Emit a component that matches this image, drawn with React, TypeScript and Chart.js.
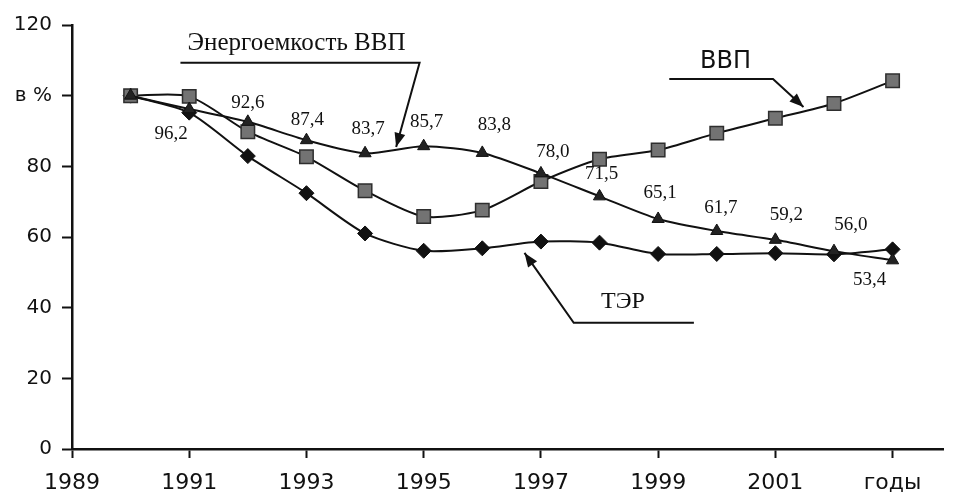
import React, { useEffect, useRef } from "react";
import { Chart, registerables } from "chart.js";

Chart.register(...registerables);

// ---- data ----
const years = [1990, 1991, 1992, 1993, 1994, 1995, 1996, 1997, 1998, 1999, 2000, 2001, 2002, 2003];
const energyIntensity = [100, 96.2, 92.6, 87.4, 83.7, 85.7, 83.8, 78.0, 71.5, 65.1, 61.7, 59.2, 56.0, 53.4];
const gdp = [100, 99.8, 89.8, 82.7, 73.1, 65.8, 67.6, 75.7, 82.0, 84.6, 89.4, 93.6, 97.8, 104.2];
const fuelResources = [100, 95.2, 82.9, 72.4, 61.0, 56.1, 56.8, 58.7, 58.4, 55.2, 55.2, 55.4, 55.1, 56.5];

const xTickValues = [1989, 1991, 1993, 1995, 1997, 1999, 2001, 2003];
const xTickLabels = ["1989", "1991", "1993", "1995", "1997", "1999", "2001", "годы"];
const yTickValues = [0, 20, 40, 60, 80, 100, 120];
const yTickLabels = ["0", "20", "40", "60", "80", "в %", "120"];

// labels shown next to the energy-intensity points (first point unlabelled)
const energyLabelShown = [false, true, true, true, true, true, true, true, true, true, true, true, true, true];

// ---- styles ----
const labelOffsets: [number, number][] = [
  [0, 0], [-18, 25], [0, -19], [1, -20], [3, -24], [3, -24], [12, -28],
  [12, -21], [2, -22], [2, -26], [4, -23], [11, -25], [17, -26], [-23, 20],
];

type Callout = {
  text: string;
  font: string;
  textAt: [number, number];
  path: [number, number][];
};

const callouts: Callout[] = [
  {
    text: "Энергоемкость ВВП",
    font: '25px "Liberation Serif", "Times New Roman", serif',
    textAt: [1992.83, 114.9],
    path: [[1990.85, 109.3], [1994.93, 109.3], [1994.53, 85.5]],
  },
  {
    text: "ВВП",
    font: '24px "DejaVu Sans", Arial, sans-serif',
    textAt: [2000.15, 109.5],
    path: [[1999.19, 104.7], [2000.96, 104.7], [2001.48, 96.8]],
  },
  {
    text: "ТЭР",
    font: '24px "Liberation Serif", "Times New Roman", serif',
    textAt: [1998.4, 41.6],
    path: [[1999.61, 35.7], [1997.56, 35.7], [1996.72, 55.5]],
  },
];

const fmt = (v: number) => v.toFixed(1).replace(".", ",");

const annotationPlugin = {
  id: "annotationPlugin",
  afterDatasetsDraw(chart: any) {
    const ctx = chart.ctx as CanvasRenderingContext2D;
    const xs = chart.scales.x;
    const ys = chart.scales.y;
    ctx.save();
    ctx.fillStyle = "#111";
    ctx.font = '19px "Liberation Serif", "Times New Roman", serif';
    ctx.textAlign = "center";
    ctx.textBaseline = "middle";
    years.forEach((yr, i) => {
      if (!energyLabelShown[i]) return;
      const px = xs.getPixelForValue(yr) + labelOffsets[i][0];
      const py = ys.getPixelForValue(energyIntensity[i]) + labelOffsets[i][1];
      ctx.fillText(fmt(energyIntensity[i]), px, py);
    });
    callouts.forEach((c) => {
      ctx.font = c.font;
      ctx.fillStyle = "#111";
      ctx.fillText(c.text, xs.getPixelForValue(c.textAt[0]), ys.getPixelForValue(c.textAt[1]));
      const pts = c.path.map(([a, b]) => [xs.getPixelForValue(a), ys.getPixelForValue(b)]);
      ctx.strokeStyle = "#111";
      ctx.lineWidth = 2;
      ctx.beginPath();
      ctx.moveTo(pts[0][0], pts[0][1]);
      for (let k = 1; k < pts.length; k++) ctx.lineTo(pts[k][0], pts[k][1]);
      ctx.stroke();
      const [ex, ey] = pts[pts.length - 1];
      const [sx, sy] = pts[pts.length - 2];
      const ang = Math.atan2(ey - sy, ex - sx);
      const len = 14;
      const half = 5.5;
      ctx.beginPath();
      ctx.moveTo(ex, ey);
      ctx.lineTo(ex - len * Math.cos(ang) + half * Math.sin(ang), ey - len * Math.sin(ang) - half * Math.cos(ang));
      ctx.lineTo(ex - len * Math.cos(ang) - half * Math.sin(ang), ey - len * Math.sin(ang) + half * Math.cos(ang));
      ctx.closePath();
      ctx.fill();
    });
    ctx.restore();
  },
};

const whiteBg = {
  id: "whiteBg",
  beforeDraw(chart: any) {
    const ctx = chart.ctx;
    ctx.save();
    ctx.fillStyle = "#fff";
    ctx.fillRect(0, 0, chart.width, chart.height);
    ctx.restore();
  },
};

export default function App() {
  const ref = useRef<HTMLCanvasElement>(null);
  useEffect(() => {
    if (!ref.current) return;
    const toPts = (arr: number[]) => years.map((y, i) => ({ x: y, y: arr[i] }));
    const chart = new Chart(ref.current, {
      type: "line",
      data: {
        datasets: [
          {
            label: "Энергоемкость ВВП",
            data: toPts(energyIntensity),
            borderColor: "#111",
            borderWidth: 2,
            pointStyle: "triangle",
            pointRadius: 7,
            pointBackgroundColor: "#222",
            pointBorderColor: "#111",
            pointBorderWidth: 1,
            tension: 0.25,
          },
          {
            label: "ВВП",
            data: toPts(gdp),
            borderColor: "#111",
            borderWidth: 2,
            pointStyle: "rect",
            pointRadius: 9.5,
            pointBackgroundColor: "#737373",
            pointBorderColor: "#2e2e2e",
            pointBorderWidth: 1.5,
            tension: 0.25,
          },
          {
            label: "ТЭР",
            data: toPts(fuelResources),
            borderColor: "#111",
            borderWidth: 2,
            pointStyle: "rectRot",
            pointRadius: 7.5,
            pointBackgroundColor: "#111",
            pointBorderColor: "#111",
            pointBorderWidth: 1,
            tension: 0.25,
          },
        ],
      },
      options: {
        responsive: false,
        animation: false,
        layout: { padding: { top: 25, right: 0, left: 0, bottom: 0 } },
        plugins: {
          legend: { display: false },
          tooltip: { enabled: false },
        },
        scales: {
          x: {
            type: "linear",
            min: 1989,
            max: 2003.86,
            afterBuildTicks: (s: any) => {
              s.ticks = xTickValues.map((v) => ({ value: v }));
            },
            afterFit: (s: any) => {
              s.height = 45;
            },
            ticks: {
              color: "#111",
              font: { family: '"DejaVu Sans", Arial, sans-serif', size: 22 },
              padding: 12,
              maxRotation: 0,
              autoSkip: false,
              callback: (v: any) => {
                const i = xTickValues.indexOf(Number(v));
                return i >= 0 ? xTickLabels[i] : "";
              },
            },
            grid: {
              drawOnChartArea: false,
              drawTicks: true,
              tickLength: 9,
              tickColor: "#111",
              tickWidth: 2,
            },
            border: { display: true, color: "#111", width: 2.5 },
          },
          y: {
            min: 0,
            max: 120,
            afterBuildTicks: (s: any) => {
              s.ticks = yTickValues.map((v) => ({ value: v }));
            },
            afterFit: (s: any) => {
              s.width = 72;
            },
            ticks: {
              color: "#111",
              font: { family: '"DejaVu Sans", Arial, sans-serif', size: 20 },
              padding: 10,
              callback: (v: any) => {
                const i = yTickValues.indexOf(Number(v));
                return i >= 0 ? yTickLabels[i] : "";
              },
            },
            grid: {
              drawOnChartArea: false,
              drawTicks: true,
              tickLength: 10,
              tickColor: "#111",
              tickWidth: 2,
            },
            border: { display: true, color: "#111", width: 2.5 },
          },
        },
      },
      plugins: [whiteBg, annotationPlugin],
    });
    return () => chart.destroy();
  }, []);
  return (
    <div style={{ position: "absolute", left: 0, top: 0, width: 954, height: 494, background: "#fff" }}>
      <canvas ref={ref} width={954} height={494} />
    </div>
  );
}
